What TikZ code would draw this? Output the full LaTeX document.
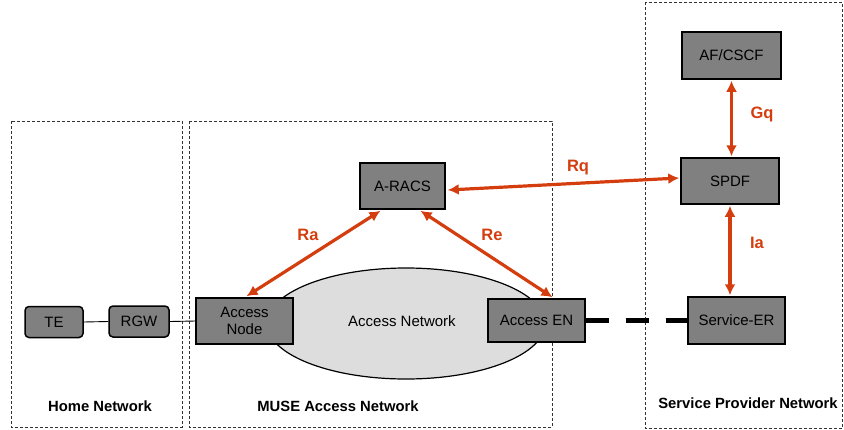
\documentclass[tikz,border=0pt]{standalone}
\usepackage{fontspec}
\setmainfont{Liberation Sans}
\usetikzlibrary{arrows.meta,calc}
\definecolor{sig}{RGB}{212,62,14}
\definecolor{boxgray}{RGB}{128,128,128}
\definecolor{cloud}{RGB}{221,221,221}
\definecolor{zone}{RGB}{50,50,50}
\tikzset{
  netbox/.style={draw=black,line width=1.5pt,fill=boxgray,inner sep=0pt,align=center,
    font=\fontsize{15}{17.5}\selectfont},
  rbox/.style={netbox,rounded corners=4pt},
  zonebox/.style={draw=zone,line width=0.9pt,dash pattern=on 3pt off 2pt},
  zonelabel/.style={font=\fontsize{14.8}{17}\selectfont\bfseries},
  sigarrow/.style={draw=sig,line width=3.2pt,{Latex[length=11pt,width=11pt]}-{Latex[length=11pt,width=11pt]}},
  siglabel/.style={text=sig,font=\fontsize{16.5}{19}\selectfont\bfseries},
  thinlink/.style={draw=black,line width=0.9pt},
  trunk/.style={draw=black,line width=5pt,dash pattern=on 23pt off 17pt}
}
\begin{document}
\begin{tikzpicture}[x=1pt,y=-1pt]
\useasboundingbox (0,0) rectangle (844,429);
% zones
\draw[zonebox] (11,121) rectangle (182,427);
\draw[zonebox] (189,121) rectangle (552,427);
\draw[zonebox] (645,2) rectangle (842.5,428);
\node[zonelabel] (lhome) at (100,406) {Home Network};
\node[zonelabel] (lmuse) at (338,406) {MUSE Access Network};
\node[zonelabel] (lsp) at (748,403) {Service Provider Network};
% access network cloud
\draw[line width=1.2pt,fill=cloud] (406,323.5) ellipse [x radius=139, y radius=55.5];
\node[font=\fontsize{15}{17.5}\selectfont] (accnet) at (402,321) {Access Network};
% nodes
\node[rbox,minimum width=58pt,minimum height=31pt] (te) at (54,322) {TE};
\node[rbox,minimum width=60pt,minimum height=31pt] (rgw) at (139,321.5) {RGW};
\node[netbox,minimum width=97pt,minimum height=46pt] (an) at (244.5,321) {Access\\Node};
\node[netbox,minimum width=85pt,minimum height=46pt] (aracs) at (402.5,186) {A-RACS};
\node[netbox,minimum width=97pt,minimum height=43pt] (aen) at (536.5,320.5) {Access EN};
\node[netbox,minimum width=99pt,minimum height=47pt] (af) at (731.5,55.5) {AF/CSCF};
\node[netbox,minimum width=98pt,minimum height=46pt] (spdf) at (730,181) {SPDF};
\node[netbox,minimum width=97pt,minimum height=47pt] (ser) at (736.5,320.5) {Service-ER};
% links
\draw[thinlink] (te.east) -- (rgw.west);
\draw[thinlink] (rgw.east) -- (an.west);
\draw[trunk] (aen.east) -- (ser.west);
% signalling
\draw[sigarrow] ($(aracs.south)+(-22,1)$) -- ($(an.north)+(2,-1)$);
\draw[sigarrow] ($(aracs.south)+(18,1)$) -- ($(aen.north)+(16,-1)$);
\draw[sigarrow] ($(aracs.east)+(2,4)$) -- ($(spdf.west)+(-1,-3)$);
\draw[sigarrow] ($(af.south)+(0,1)$) -- ($(af.south |- spdf.north)+(0,-1)$);
\draw[sigarrow] ($(spdf.south)+(0,1)$) -- ($(spdf.south |- ser.north)+(0,-1)$);
\node[siglabel] (lra) at (308,235) {Ra};
\node[siglabel] (lre) at (492,235) {Re};
\node[siglabel] (lrq) at (578,168) {Rq};
\node[siglabel] (lgq) at (762,114) {Gq};
\node[siglabel] (lia) at (757,243) {Ia};
\end{tikzpicture}
\end{document}
